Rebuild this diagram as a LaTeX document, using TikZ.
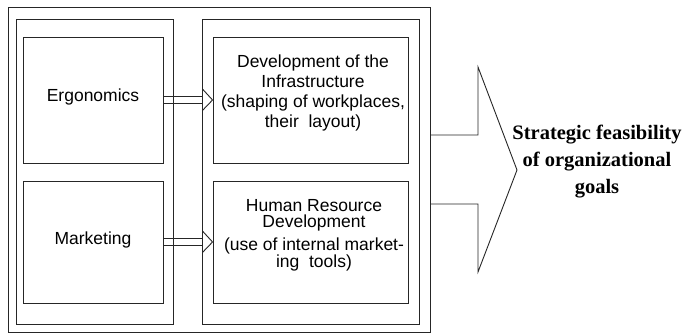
\documentclass[tikz,border=0pt]{standalone}
\usepackage{fontspec}
\setmainfont{Liberation Sans}
\newfontfamily\goalfont{Liberation Serif}
\usetikzlibrary{calc,positioning}

\tikzset{
    frame/.style={draw=black!85, line width=0.9pt},
    box/.style={frame, inner sep=0pt, align=center},
    blockarrow/.style={draw=black!85, line width=0.9pt, line join=miter}
}

\begin{document}
\begin{tikzpicture}[x=1pt,y=-1pt,font=\fontsize{17.5}{20}\selectfont]
\useasboundingbox (0,0) rectangle (683,334);

%%% FRAMES %%%
\draw[frame] (8,7) rectangle (430,332); % outer frame
\draw[frame] (16,19) rectangle (173,324); % left panel
\draw[frame] (202,19) rectangle (419,324); % right panel

%%% LEFT BOXES %%%
\node[box, minimum width=140pt, minimum height=126pt] (ergo) at (93,100) {};
\node at (93,97) {Ergonomics};
\node[box, minimum width=140pt, minimum height=122pt] (mark) at (93,242) {};
\node at (93,240) {Marketing};

%%% RIGHT BOXES %%%
\node[box, minimum width=195pt, minimum height=126pt] (infra) at (310.5,100) {};
\node[align=center, inner sep=0pt] at (313,93) {Development of the\\Infrastructure\\(shaping of workplaces,\\their\ \ layout)};
\node[box, minimum width=195pt, minimum height=122pt] (hrd) at (310.5,242) {};
\node[align=center, inner sep=0pt] at (314,235) {Human Resource\\[-4pt]Development\\[3pt](use of internal market-\\[-3pt]ing\ \ tools)};

%%% SMALL ARROWS %%%
\draw[blockarrow] ($(ergo.east)+(0,-3.5)$) -- ($(ergo.east)+(39,-3.5)$) -- ($(ergo.east)+(39,-11)$)
    -- (infra.west) -- ($(ergo.east)+(39,10.5)$) -- ($(ergo.east)+(39,3.5)$) -- ($(ergo.east)+(0,3.5)$); % ergonomics arrow
\draw[blockarrow] ($(mark.east)+(0,-3.5)$) -- ($(mark.east)+(39,-3.5)$) -- ($(mark.east)+(39,-11)$)
    -- (hrd.west) -- ($(mark.east)+(39,10.5)$) -- ($(mark.east)+(39,3.5)$) -- ($(mark.east)+(0,3.5)$); % marketing arrow

%%% BIG ARROW %%%
\coordinate (tip) at (517,170);
\draw[blockarrow] (430,135) -- (478,135) -- (478,67) -- (tip) -- (478,272) -- (478,204) -- (430,204); % result arrow
\node[align=center, inner sep=0pt, font=\goalfont\bfseries\fontsize{20.5}{27}\selectfont] (goal) at (597,162) {Strategic feasibility\\of organizational\\goals};
\end{tikzpicture}
\end{document}
